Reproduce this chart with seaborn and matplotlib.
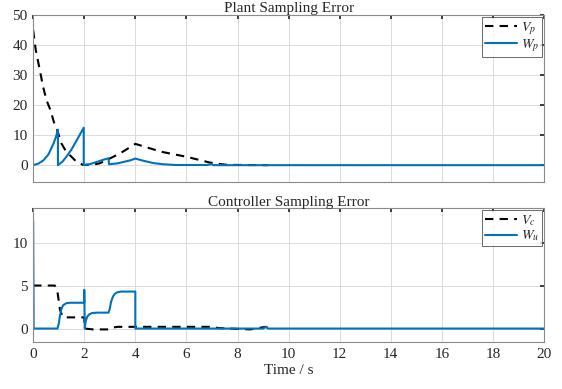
import pandas as pd
import matplotlib
matplotlib.use("Agg")
import matplotlib.pyplot as plt
import seaborn as sns

# Plant sampling error (top panel)
t_vp = [0, 0.1, 0.26, 0.39, 0.52, 0.68, 0.81, 0.94, 1.11, 1.3, 1.5, 1.7, 1.95, 2.35, 2.6,
        2.9, 3.4, 4.0, 5.0, 6.0, 6.9, 7.2, 7.6, 9.2]
vp = [45, 38.5, 31.7, 26.1, 21.7, 18.3, 14.4, 11.7, 7.2, 4.4, 2.8, 1.1, 0.1, 0.2, 0.6,
      1.8, 3.9, 7.1, 4.5, 2.8, 0.9, 0.5, 0.1, 0.0]

t_wp = [0, 0.2, 0.4, 0.6, 0.8, 0.9, 0.97, 0.97, 1.15, 1.3, 1.5, 1.7, 1.85, 1.98, 1.98, 2.2,
        2.5, 2.75, 2.95, 2.97, 3.3, 3.55, 3.8, 4.0, 4.3, 4.7, 5.1, 5.6, 6.8, 7.0, 7.05, 20]
wp = [0, 0.5, 1.6, 3.6, 7.3, 9.6, 11.8, 0.0, 1.2, 2.8, 5.2, 8.2, 10.5, 12.5, 0.0, 0.3,
      1.1, 1.8, 2.3, 0.3, 0.6, 1.1, 1.6, 2.2, 1.5, 0.7, 0.3, 0.05, 0.05, 0.35, 0.0, 0.0]

# Controller sampling error (bottom panel)
t_vc = [0, 0.85, 0.95, 1.05, 1.15, 1.2, 2.0, 2.02, 2.35, 2.95, 3.1, 3.3, 6.9, 7.3, 8.5, 9.1, 9.2]
vc = [5, 5, 4.3, 2.2, 1.4, 1.3, 1.3, 0.0, -0.1, -0.1, 0.1, 0.2, 0.2, 0.05, -0.1, 0.2, 0.05]

t_wu = [0, 0.02, 0.95, 1.0, 1.05, 1.1, 1.17, 1.3, 1.45, 2.0, 2.0, 2.02, 2.06, 2.12, 2.2, 2.3,
        2.5, 2.95, 3.0, 3.05, 3.12, 3.2, 3.3, 3.45, 4.0, 4.0, 9.0, 9.12, 9.2, 20]
wu = [12.5, 0, 0, 0.5, 1.5, 2.2, 2.7, 2.95, 3.0, 3.0, 4.5, 0.0, 0.9, 1.4, 1.65, 1.8,
      1.85, 1.85, 2.3, 3.1, 3.7, 4.05, 4.22, 4.3, 4.3, 0.0, 0.0, 0.2, 0.0, 0.0]

x_ticks = list(range(0, 21, 2))

BLUE = "#0072BD"

sns.set_theme(style="whitegrid")
plt.rcParams["font.family"] = ["Liberation Serif", "DejaVu Serif"]
plt.rcParams["mathtext.fontset"] = "stix"
plt.rcParams["axes.edgecolor"] = "#8a8a8a"
plt.rcParams["grid.color"] = "#dadada"
plt.rcParams["grid.linewidth"] = 0.7

fig = plt.figure(figsize=(5.62, 3.89), dpi=100)
ax1 = fig.add_axes([0.059, 0.533, 0.909, 0.428])
ax2 = fig.add_axes([0.059, 0.120, 0.909, 0.345])


def draw_panel(ax, t_dash, y_dash, t_line, y_line, labels, ylim, yticks, title):
    d1 = pd.DataFrame({"t": t_dash, "y": y_dash})
    d2 = pd.DataFrame({"t": t_line, "y": y_line})
    sns.lineplot(data=d1, x="t", y="y", ax=ax, color="black", linestyle=(0, (4, 3)),
                 lw=1.5, estimator=None, sort=False, label=labels[0])
    sns.lineplot(data=d2, x="t", y="y", ax=ax, color=BLUE, lw=1.5,
                 estimator=None, sort=False, label=labels[1])
    ax.set_xlim(0, 20)
    ax.set_ylim(*ylim)
    ax.set_xticks(x_ticks)
    ax.set_yticks(yticks)
    ax.set_xlabel("")
    ax.set_ylabel("")
    ax.set_title(title, fontsize=11, pad=1.5)
    ax.tick_params(direction="in", length=3, labelsize=11, colors="#262626",
                   top=True, right=True, pad=4)
    for s in ax.spines.values():
        s.set_linewidth(0.8)
    leg = ax.legend(loc="upper right", fontsize=10, frameon=True, fancybox=False,
                    handlelength=2.3, handletextpad=0.3, borderpad=0.2,
                    labelspacing=0.05, borderaxespad=0.15)
    leg.get_frame().set_edgecolor("#262626")
    leg.get_frame().set_linewidth(0.6)


draw_panel(ax1, t_vp, vp, t_wp, wp, ["$V_p$", "$W_p$"], (-5.5, 50),
           [0, 10, 20, 30, 40, 50], "Plant Sampling Error")
ax1.set_xticklabels([])

draw_panel(ax2, t_vc, vc, t_wu, wu, ["$V_c$", "$W_u$"], (-1.6, 14),
           [0, 5, 10], "Controller Sampling Error")
ax2.set_xlabel("Time / s", fontsize=11, labelpad=2)

fig.savefig("out.png", dpi=100)
